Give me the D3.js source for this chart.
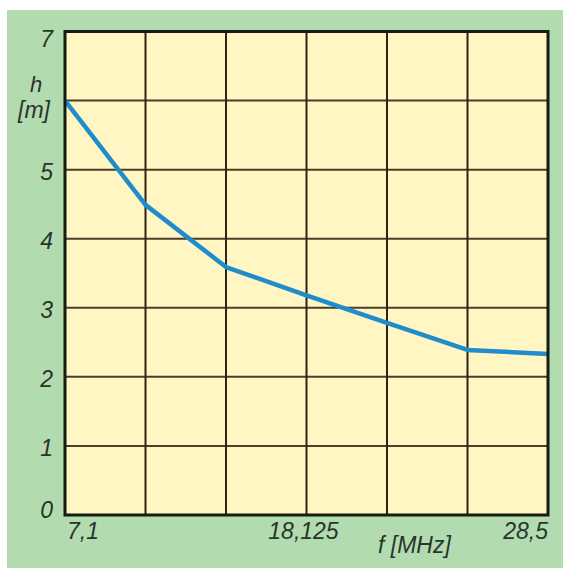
<!DOCTYPE html>
<html><head><meta charset="utf-8">
<script src="https://cdn.jsdelivr.net/npm/d3@7"></script>
<style>body{margin:0;background:#fff}svg{display:block}</style>
</head><body><svg id="c" width="563" height="568"></svg>
<script>
const freqs = ["7,1", "10,12", "14,15", "18,125", "21,22", "24,95", "28,5"];
const heights = [6.0, 4.49, 3.59, 3.18, 2.78, 2.39, 2.33];
const xTickLabels = ["7,1", "18,125", "28,5"];
const yTicks = [0, 1, 2, 3, 4, 5, 6, 7];
const yTickLabels = ["0", "1", "2", "3", "4", "5", "", "7"];

const svg = d3.select("#c");
const L = 65, R = 548, T = 31.5, B = 515;
const x = d3.scalePoint().domain(freqs).range([L, R]);
const y = d3.scaleLinear().domain([0, 7]).range([B, T]);
const font = "'Liberation Sans', Arial, sans-serif";
const txt = "#28352c";

svg.append("rect").attr("x", 7).attr("y", 10).attr("width", 556).attr("height", 558).attr("fill", "#b3dbb0");
svg.append("rect").attr("x", L).attr("y", T).attr("width", R - L).attr("height", B - T).attr("fill", "#fff6c4");

// grid
svg.append("g").selectAll("line").data(yTicks.slice(1, -1)).join("line")
  .attr("x1", L).attr("x2", R).attr("y1", d => y(d)).attr("y2", d => y(d))
  .attr("stroke", "#4a3f25").attr("stroke-width", 2);
svg.append("g").selectAll("line").data(freqs.slice(1, -1)).join("line")
  .attr("y1", T).attr("y2", B).attr("x1", d => x(d)).attr("x2", d => x(d))
  .attr("stroke", "#2a2515").attr("stroke-width", 2);

// data line
const line = d3.line().x((d, i) => x(freqs[i])).y(d => y(d));
svg.append("path").datum(heights).attr("d", line).attr("fill", "none")
  .attr("stroke", "#1f8ccb").attr("stroke-width", 4.5).attr("stroke-linejoin", "round");

// border
svg.append("rect").attr("x", L).attr("y", T).attr("width", R - L).attr("height", B - T)
  .attr("fill", "none").attr("stroke", "#151c10").attr("stroke-width", 3);

// y tick labels
svg.append("g").selectAll("text").data(yTicks).join("text")
  .attr("x", 53).attr("y", d => y(d) + (d === 7 ? 7.5 : d === 0 ? -5 : 2.5))
  .attr("dy", "0.35em").attr("text-anchor", "end")
  .attr("font-family", font).attr("font-style", "italic").attr("font-size", 23).attr("fill", txt)
  .text((d, i) => yTickLabels[i]);

// x tick labels
const anchors = ["start", "middle", "end"];
const offs = [2, -3, 0];
svg.append("g").selectAll("text").data(xTickLabels).join("text")
  .attr("x", (d, i) => x(d) + offs[i]).attr("y", 539)
  .attr("text-anchor", (d, i) => anchors[i])
  .attr("font-family", font).attr("font-style", "italic").attr("font-size", 23).attr("fill", txt)
  .text(d => d);

// axis titles
svg.append("text").attr("x", 378).attr("y", 553).attr("font-family", font).attr("font-style", "italic")
  .attr("font-size", 23).attr("fill", txt).text("f [MHz]");
svg.append("text").attr("x", 36).attr("y", 92).attr("text-anchor", "middle").attr("font-family", font)
  .attr("font-style", "italic").attr("font-size", 22).attr("fill", txt).text("h");
svg.append("text").attr("x", 34).attr("y", 118).attr("text-anchor", "middle").attr("font-family", font)
  .attr("font-style", "italic").attr("font-size", 23).attr("fill", txt).text("[m]");
</script></body></html>
